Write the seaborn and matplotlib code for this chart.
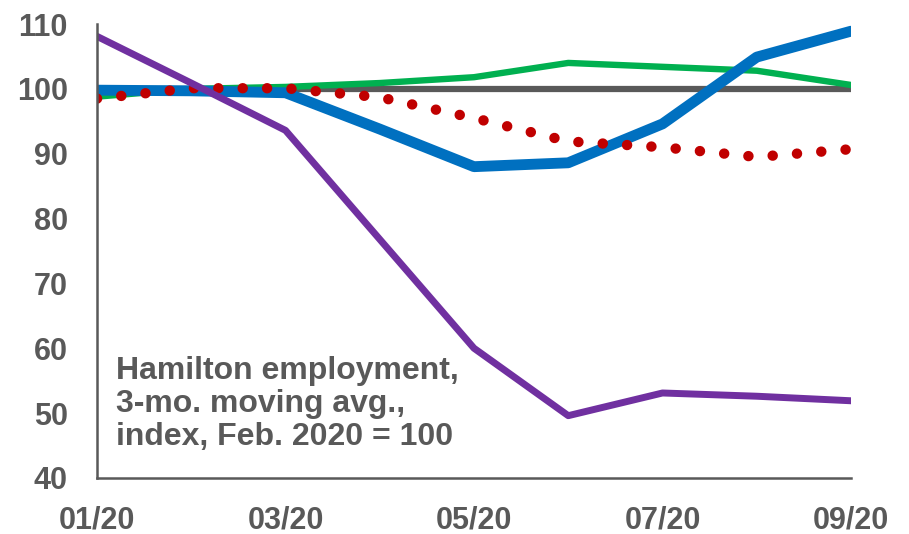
import numpy as np, pandas as pd
import matplotlib; matplotlib.use("Agg"); import matplotlib.pyplot as plt
import seaborn as sns

months = ["01/20", "02/20", "03/20", "04/20", "05/20", "06/20", "07/20", "08/20", "09/20"]
blue   = [99.8, 99.7, 99.4, 93.8, 88.0, 88.6, 94.6, 104.9, 108.9]
green  = [98.8, 100.0, 100.3, 100.9, 101.8, 104.0, 103.4, 102.8, 100.6]
purple = [108.1, 100.9, 93.6, 76.8, 60.0, 49.6, 53.1, 52.6, 51.9]
red    = [98.5, 100.1, 100.1, 98.7, 95.5, 91.9, 91.0, 89.5, 90.7]
base   = [100] * 9
tick_labels = ["01/20", "03/20", "05/20", "07/20", "09/20"]

GREY = "#595959"
sns.set_style("white")
plt.rcParams["font.family"] = ["Liberation Sans", "DejaVu Sans"]

x = np.arange(len(months))
fig = plt.figure(figsize=(9.09, 5.34), dpi=100)
ax = fig.add_axes([0.1067, 0.105, 0.8295, 0.85])

sns.lineplot(x=x, y=base, color=GREY, lw=4.5, ax=ax)
sns.lineplot(x=x, y=green, color="#00B050", lw=4.6, ax=ax)
sns.lineplot(x=x, y=blue, color="#0070C0", lw=7.8, ax=ax)
sns.lineplot(x=x, y=red, color="#C00000", lw=7.5, ax=ax)
ax.lines[-1].set_linestyle((0, (0.01, 2.33)))
ax.lines[-1].set_dash_capstyle("round")
sns.lineplot(x=x, y=purple, color="#7030A0", lw=5, ax=ax)

ax.set_xlim(0, 8)
ax.set_ylim(40, 110)
ax.set_yticks(range(40, 111, 10))
ax.set_xticks(x[::2])
ax.set_xticklabels(tick_labels)
sns.despine(ax=ax)
for s in ["left", "bottom"]:
    ax.spines[s].set_color(GREY); ax.spines[s].set_linewidth(1.8)
ax.tick_params(axis="both", direction="in", length=6, width=1.5, color=GREY,
               labelsize=22, labelcolor=GREY)
ax.tick_params(axis="y", pad=21)
ax.tick_params(axis="x", pad=20)
for t in ax.get_xticklabels() + ax.get_yticklabels():
    t.set_fontweight("bold")

ax.text(0.025, 0.268, "Hamilton employment,\n3-mo. moving avg.,\nindex, Feb. 2020 = 100",
        transform=ax.transAxes, fontsize=23, fontweight="bold", color=GREY,
        linespacing=1.13, va="top", ha="left")

plt.savefig("out.png", dpi=100)
